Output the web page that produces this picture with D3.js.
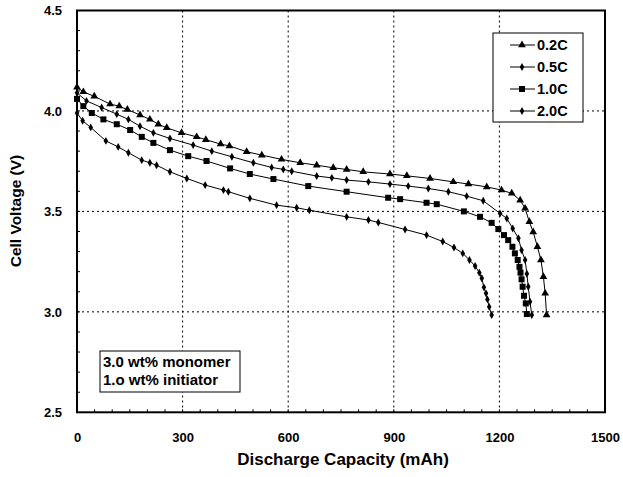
<!DOCTYPE html>
<html><head><meta charset="utf-8">
<script src="https://cdn.jsdelivr.net/npm/d3@7"></script>
<style>body{margin:0;background:#fff}svg{display:block}text{font-family:"Liberation Sans",Arial,sans-serif;font-weight:bold;fill:#000}</style>
</head><body><svg id="c" width="623" height="477"></svg>
<script>
const xTicks=[0,300,600,900,1200,1500];
const yTicks=[2.5,3.0,3.5,4.0,4.5];
const seriesNames=["0.2C","0.5C","1.0C","2.0C"];
const markerTypes=["triangle","diamond","square","diamond"];
const cap02=[0,18,49,94,120,143,179,207,231,255,297,340,366,408,433,482,525,581,634,681,728,766,813,889,937,1003,1069,1112,1164,1206,1235,1259,1273,1285,1296,1308,1318,1325,1330,1334];
const v02=[4.118,4.095,4.073,4.034,4.024,4.007,3.98,3.958,3.934,3.916,3.891,3.871,3.857,3.835,3.826,3.797,3.78,3.759,3.742,3.73,3.717,3.709,3.697,3.686,3.677,3.664,3.647,3.636,3.622,3.606,3.59,3.556,3.515,3.448,3.398,3.324,3.258,3.175,3.092,2.984];
const cap05=[0,27,70,113,146,179,217,264,330,383,440,501,553,586,610,681,724,766,828,889,941,998,1055,1107,1154,1202,1221,1238,1254,1263,1273,1278,1282,1287,1292];
const v05=[4.09,4.05,4.017,3.984,3.958,3.924,3.891,3.863,3.83,3.80,3.772,3.742,3.719,3.709,3.70,3.676,3.667,3.656,3.647,3.636,3.626,3.614,3.598,3.576,3.553,3.49,3.465,3.415,3.366,3.307,3.258,3.19,3.125,3.05,2.984];
const cap10=[0,18,42,75,113,151,184,217,264,316,368,435,491,558,657,766,884,918,993,1022,1099,1145,1178,1197,1213,1225,1237,1244,1252,1257,1260,1263,1266,1270,1275,1278];
const v10=[4.06,4.024,3.99,3.958,3.934,3.905,3.871,3.841,3.805,3.775,3.751,3.714,3.686,3.661,3.626,3.598,3.568,3.561,3.543,3.536,3.50,3.473,3.443,3.412,3.382,3.357,3.324,3.291,3.258,3.224,3.195,3.162,3.125,3.08,3.042,2.989];
const cap20=[0,16,39,82,117,146,184,207,226,264,312,364,416,430,491,567,624,660,766,828,856,932,993,1039,1071,1096,1115,1131,1143,1150,1156,1162,1166,1171,1178];
const v20=[3.99,3.951,3.918,3.851,3.821,3.792,3.755,3.742,3.73,3.697,3.664,3.631,3.606,3.598,3.565,3.531,3.518,3.506,3.473,3.457,3.445,3.41,3.382,3.35,3.32,3.291,3.258,3.228,3.195,3.167,3.122,3.092,3.062,3.025,2.984];
const caps=[cap02,cap05,cap10,cap20], volts=[v02,v05,v10,v20];
const noteLines=["3.0 wt% monomer","1.o wt% initiator"];

const svg=d3.select("#c");
const x=d3.scaleLinear().domain([0,1500]).range([77,605]);
const y=d3.scaleLinear().domain([2.5,4.5]).range([412.3,10.5]);

// grid
svg.append("g").selectAll("line").data(xTicks.slice(1,-1)).join("line")
 .attr("x1",d=>x(d)).attr("x2",d=>x(d)).attr("y1",y(4.5)).attr("y2",y(2.5))
 .attr("stroke","#000").attr("stroke-width",1).attr("stroke-dasharray","2,3");
svg.append("g").selectAll("line").data(yTicks.slice(1,-1)).join("line")
 .attr("x1",x(0)).attr("x2",x(1500)).attr("y1",d=>y(d)).attr("y2",d=>y(d))
 .attr("stroke","#000").attr("stroke-width",1).attr("stroke-dasharray","2,3");

// minor ticks
svg.append("g").selectAll("line").data(d3.range(2.6,4.45,0.1)).join("line")
 .attr("x1",x(0)).attr("x2",x(0)+3).attr("y1",d=>y(d)).attr("y2",d=>y(d)).attr("stroke","#000");
svg.append("g").selectAll("line").data(d3.range(50,1500,50)).join("line")
 .attr("x1",d=>x(d)).attr("x2",d=>x(d)).attr("y1",y(2.5)).attr("y2",y(2.5)-3).attr("stroke","#000");

// frame
svg.append("rect").attr("x",x(0)).attr("y",y(4.5)).attr("width",x(1500)-x(0)).attr("height",y(2.5)-y(4.5))
 .attr("fill","none").attr("stroke","#000").attr("stroke-width",2);

// axes labels
const xAxis=d3.axisBottom(x).tickValues(xTicks).tickSize(0).tickPadding(20).tickFormat(d3.format("d"));
const gx=svg.append("g").attr("transform",`translate(0,${y(2.5)})`).call(xAxis);
gx.select(".domain").remove();
gx.selectAll("text").attr("font-size","13px").style("font-family","Liberation Sans, Arial").style("font-weight","bold");
const yAxis=d3.axisLeft(y).tickValues(yTicks).tickSize(0).tickPadding(15).tickFormat(d3.format(".1f"));
const gy=svg.append("g").attr("transform",`translate(${x(0)},0)`).call(yAxis);
gy.select(".domain").remove();
gy.selectAll("text").attr("font-size","13px").style("font-family","Liberation Sans, Arial").style("font-weight","bold");

svg.append("text").attr("x",343).attr("y",465).attr("text-anchor","middle").attr("font-size","17px").text("Discharge Capacity (mAh)");
svg.append("text").attr("transform","translate(21,211) rotate(-90)").attr("text-anchor","middle").attr("font-size","15.5px").text("Cell Voltage (V)");

// markers
function marker(g,type,cx,cy){
  if(type==="triangle") g.append("path").attr("d",d3.symbol(d3.symbolTriangle,26)()).attr("transform",`translate(${cx},${cy})`).attr("fill","#000");
  else if(type==="square") g.append("rect").attr("x",cx-3).attr("y",cy-3).attr("width",6).attr("height",6).attr("fill","#000");
  else g.append("path").attr("d",d3.symbol(d3.symbolDiamond,18)()).attr("transform",`translate(${cx},${cy})`).attr("fill","#000");
}
caps.forEach((c,i)=>{
  const pts=c.map((v,j)=>[v,volts[i][j]]);
  const g=svg.append("g");
  g.append("path").datum(pts).attr("d",d3.line().x(d=>x(d[0])).y(d=>y(d[1]))).attr("fill","none").attr("stroke","#000").attr("stroke-width",1);
  pts.forEach(p=>marker(g,markerTypes[i],x(p[0]),y(p[1])));
});

// legend
const lg=svg.append("g");
lg.append("rect").attr("x",493).attr("y",33).attr("width",90).attr("height",89).attr("fill","#fff").attr("stroke","#000").attr("stroke-width",1);
seriesNames.forEach((n,i)=>{
  const cy=45+i*22;
  lg.append("line").attr("x1",510).attr("x2",535).attr("y1",cy).attr("y2",cy).attr("stroke","#000");
  marker(lg,markerTypes[i],522,cy);
  lg.append("text").attr("x",537).attr("y",cy+5).attr("font-size","14.5px").text(n);
});

// note box
const ng=svg.append("g");
ng.append("rect").attr("x",100).attr("y",351).attr("width",140).attr("height",41).attr("fill","#fff").attr("stroke","#000");
noteLines.forEach((t,i)=>ng.append("text").attr("x",103).attr("y",367+i*18).attr("font-size","15px").text(t));
</script></body></html>
